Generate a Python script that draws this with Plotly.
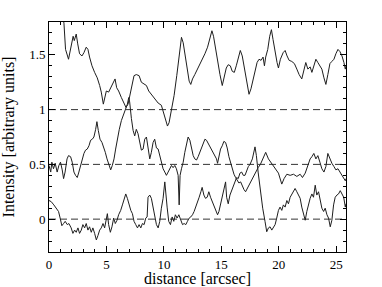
import plotly.graph_objects as go

# Series A (upper profile, ~1.0-1.7)
dist_a = [0, 0.5, 1.0, 1.3, 1.44, 1.70, 1.93, 2.1, 2.2, 2.37,
          2.5, 2.66, 2.87, 3.04, 3.24, 3.39, 3.53, 3.74, 3.97, 4.2,
          4.41, 4.55, 4.73, 4.84, 4.99, 5.19, 5.37, 5.57, 5.75, 5.89,
          6.06, 6.30, 6.53, 6.7, 6.88, 7.05, 7.23, 7.4, 7.6, 7.84,
          8.04, 8.27, 8.48, 8.68, 8.91, 9.2, 9.5, 9.78, 9.93, 10.13,
          10.31, 10.45, 10.66, 10.89, 11.12, 11.36, 11.53, 11.68, 11.82, 12.02,
          12.2, 12.34, 12.49, 12.69, 12.93, 13.13, 13.33, 13.57, 13.8, 14.0,
          14.18, 14.32, 14.5, 14.67, 14.88, 15.08, 15.25, 15.43, 15.6, 15.78,
          15.95, 16.13, 16.3, 16.47, 16.65, 16.82, 17.0, 17.2, 17.41, 17.58,
          17.76, 17.93, 18.11, 18.28, 18.46, 18.63, 18.75, 18.86, 19.04, 19.21,
          19.36, 19.5, 19.68, 19.85, 19.97, 20.14, 20.38, 20.55, 20.72, 20.9,
          21.13, 21.36, 21.57, 21.77, 22.0, 22.18, 22.35, 22.53, 22.73, 22.88,
          23.05, 23.23, 23.4, 23.58, 23.75, 23.93, 24.1, 24.27, 24.45, 24.62,
          24.8, 24.97, 25.15, 25.32, 25.5, 25.67, 25.79, 25.85]
int_a = [2.30, 2.12, 1.95, 1.79, 1.55, 1.46, 1.57, 1.67, 1.63, 1.69,
         1.60, 1.51, 1.49, 1.52, 1.57, 1.55, 1.48, 1.40, 1.34, 1.29,
         1.22, 1.16, 1.05, 1.10, 1.17, 1.16, 1.20, 1.23, 1.28, 1.20,
         1.17, 1.11, 1.05, 1.02, 1.05, 1.14, 1.23, 1.31, 1.32, 1.31,
         1.25, 1.23, 1.22, 1.17, 1.14, 1.10, 1.06, 1.04, 0.98, 0.92,
         0.85, 0.88, 0.99, 1.13, 1.31, 1.52, 1.66, 1.61, 1.52, 1.37,
         1.26, 1.23, 1.28, 1.32, 1.37, 1.41, 1.46, 1.51, 1.57, 1.66,
         1.72, 1.67, 1.55, 1.43, 1.32, 1.22, 1.29, 1.38, 1.41, 1.40,
         1.35, 1.34, 1.40, 1.48, 1.54, 1.49, 1.37, 1.25, 1.14, 1.19,
         1.28, 1.35, 1.43, 1.46, 1.45, 1.48, 1.40, 1.48, 1.55, 1.67,
         1.73, 1.64, 1.52, 1.43, 1.38, 1.46, 1.52, 1.54, 1.49, 1.45,
         1.44, 1.42, 1.37, 1.32, 1.28, 1.35, 1.43, 1.37, 1.39, 1.34,
         1.40, 1.46, 1.43, 1.40, 1.37, 1.29, 1.23, 1.32, 1.42, 1.44,
         1.46, 1.51, 1.55, 1.53, 1.49, 1.43, 1.37, 1.40]

# Series B (middle profile, ~0.5)
dist_b = [0, 0.15, 0.25, 0.39, 0.54, 0.71, 0.86, 1.0, 1.15, 1.27,
          1.4, 1.57, 1.7, 1.88, 2.02, 2.17, 2.31, 2.46, 2.6, 2.75,
          2.9, 3.04, 3.18, 3.33, 3.48, 3.62, 3.77, 3.91, 4.06, 4.17,
          4.29, 4.44, 4.61, 4.76, 4.9, 5.05, 5.22, 5.37, 5.51, 5.66,
          5.8, 5.95, 6.12, 6.3, 6.47, 6.65, 6.82, 6.94, 7.02, 7.17,
          7.32, 7.46, 7.6, 7.75, 7.9, 8.04, 8.19, 8.33, 8.48, 8.62,
          8.77, 8.91, 9.06, 9.2, 9.35, 9.5, 9.64, 9.78, 9.93, 10.08,
          10.22, 10.37, 10.51, 10.66, 10.8, 10.95, 11.09, 11.24, 11.33, 11.41,
          11.53, 11.68, 11.82, 11.97, 12.11, 12.26, 12.4, 12.55, 12.69, 12.84,
          12.98, 13.13, 13.27, 13.42, 13.57, 13.71, 13.86, 14.0, 14.15, 14.3,
          14.44, 14.58, 14.67, 14.79, 14.93, 15.08, 15.22, 15.37, 15.51, 15.66,
          15.8, 15.95, 16.1, 16.24, 16.39, 16.53, 16.68, 16.82, 16.97, 17.11,
          17.26, 17.4, 17.6, 17.8, 18.0, 18.2, 18.4, 18.6, 18.86, 19.1,
          19.39, 19.68, 19.97, 20.26, 20.46, 20.7, 20.99, 21.28, 21.57, 21.86,
          22.06, 22.3, 22.53, 22.73, 22.88, 23.05, 23.23, 23.4, 23.58, 23.75,
          23.93, 24.1, 24.27, 24.45, 24.62, 24.8, 24.97, 25.15, 25.32, 25.5,
          25.67, 25.79, 25.85]
int_b = [0.49, 0.43, 0.52, 0.46, 0.51, 0.43, 0.49, 0.52, 0.45, 0.37,
         0.43, 0.55, 0.58, 0.57, 0.52, 0.43, 0.40, 0.38, 0.43, 0.49,
         0.55, 0.60, 0.63, 0.64, 0.67, 0.72, 0.73, 0.75, 0.82, 0.89,
         0.81, 0.73, 0.70, 0.66, 0.61, 0.55, 0.49, 0.45, 0.49, 0.55,
         0.64, 0.73, 0.82, 0.90, 0.95, 0.99, 1.05, 1.11, 1.07, 0.92,
         0.81, 0.76, 0.82, 0.78, 0.69, 0.63, 0.64, 0.73, 0.75, 0.67,
         0.55, 0.61, 0.70, 0.73, 0.65, 0.64, 0.58, 0.52, 0.46, 0.43,
         0.40, 0.43, 0.46, 0.49, 0.47, 0.49, 0.46, 0.40, 0.13, 0.40,
         0.46, 0.52, 0.61, 0.70, 0.75, 0.72, 0.64, 0.58, 0.55, 0.54,
         0.57, 0.61, 0.66, 0.70, 0.73, 0.72, 0.69, 0.66, 0.64, 0.61,
         0.58, 0.55, 0.51, 0.58, 0.64, 0.67, 0.71, 0.70, 0.65, 0.57,
         0.51, 0.45, 0.41, 0.38, 0.35, 0.33, 0.34, 0.30, 0.27, 0.25,
         0.28, 0.32, 0.36, 0.40, 0.44, 0.47, 0.50, 0.55, 0.61, 0.55,
         0.51, 0.46, 0.42, 0.32, 0.37, 0.41, 0.40, 0.41, 0.39, 0.41,
         0.38, 0.42, 0.48, 0.55, 0.57, 0.60, 0.55, 0.58, 0.52, 0.46,
         0.43, 0.48, 0.60, 0.55, 0.51, 0.48, 0.45, 0.46, 0.43, 0.40,
         0.38, 0.35, 0.37]

# Series C (lower profile, ~0)
dist_c = [0, 0.19, 0.42, 0.63, 0.83, 0.97, 1.12, 1.27, 1.41, 1.59,
          1.73, 1.93, 2.08, 2.23, 2.37, 2.52, 2.66, 2.81, 2.95, 3.1,
          3.24, 3.39, 3.53, 3.68, 3.82, 3.97, 4.12, 4.26, 4.41, 4.55,
          4.7, 4.84, 4.99, 5.08, 5.19, 5.34, 5.48, 5.63, 5.77, 5.92,
          6.06, 6.24, 6.39, 6.53, 6.68, 6.82, 6.97, 7.12, 7.26, 7.4,
          7.55, 7.7, 7.84, 7.99, 8.13, 8.28, 8.42, 8.54, 8.62, 8.77,
          8.91, 9.06, 9.2, 9.35, 9.5, 9.64, 9.78, 9.93, 10.08, 10.16,
          10.28, 10.42, 10.57, 10.72, 10.86, 11.0, 11.15, 11.3, 11.47, 11.62,
          11.76, 11.91, 12.05, 12.2, 12.34, 12.49, 12.63, 12.78, 12.93, 13.07,
          13.22, 13.33, 13.48, 13.62, 13.77, 13.91, 14.06, 14.21, 14.35, 14.5,
          14.67, 14.79, 14.93, 15.08, 15.22, 15.37, 15.46, 15.6, 15.75, 15.89,
          16.04, 16.18, 16.33, 16.47, 16.62, 16.77, 16.91, 17.06, 17.2, 17.35,
          17.5, 17.7, 17.93, 18.05, 18.2, 18.4, 18.6, 18.8, 18.95, 19.1,
          19.24, 19.39, 19.53, 19.68, 19.82, 19.97, 20.11, 20.26, 20.4, 20.55,
          20.7, 20.84, 20.99, 21.13, 21.28, 21.42, 21.57, 21.71, 21.86, 22.0,
          22.15, 22.3, 22.44, 22.59, 22.73, 22.88, 23.02, 23.17, 23.31, 23.46,
          23.6, 23.75, 23.9, 24.04, 24.19, 24.33, 24.48, 24.62, 24.77, 24.91,
          25.06, 25.2, 25.35, 25.5, 25.65, 25.79, 25.85]
int_c = [0.17, 0.16, 0.13, 0.10, 0.07, 0.01, -0.06, -0.04, -0.02, -0.05,
         -0.04, -0.08, -0.13, -0.10, -0.12, -0.08, -0.13, -0.10, -0.05, -0.08,
         -0.04, -0.10, -0.07, -0.12, -0.08, -0.13, -0.19, -0.15, -0.10, -0.08,
         -0.04, -0.08, 0.01, 0.05, -0.05, -0.12, -0.07, 0.01, -0.04, -0.01,
         0.04, 0.08, 0.13, 0.17, 0.23, 0.19, 0.13, 0.08, 0.05, -0.02,
         -0.05, -0.08, -0.05, -0.08, -0.04, -0.05, 0.01, 0.02, 0.20, 0.22,
         0.19, 0.10, 0.04, -0.05, -0.08, -0.02, 0.10, 0.19, 0.34, 0.22,
         0.11, -0.02, -0.05, 0.02, -0.02, 0.04, 0.01, 0.04, -0.01, -0.05,
         -0.04, -0.05, -0.02, 0.01, 0.02, 0.04, 0.07, 0.11, 0.16, 0.20,
         0.25, 0.29, 0.22, 0.19, 0.20, 0.25, 0.20, 0.16, 0.11, 0.08,
         0.04, 0.07, 0.13, 0.20, 0.26, 0.34, 0.20, 0.14, 0.22, 0.26,
         0.31, 0.35, 0.38, 0.37, 0.42, 0.43, 0.40, 0.40, 0.45, 0.48,
         0.50, 0.55, 0.66, 0.58, 0.43, 0.25, 0.10, -0.02, -0.115, -0.08,
         -0.07, -0.10, -0.08, -0.05, 0.01, 0.08, 0.11, 0.08, 0.13, 0.11,
         0.17, 0.14, 0.20, 0.23, 0.25, 0.28, 0.25, 0.22, 0.19, 0.11,
         0.04, -0.01, 0.07, 0.14, 0.19, 0.23, 0.20, 0.31, 0.22, 0.25,
         0.16, 0.10, 0.07, 0.10, 0.04, 0.01, -0.07, -0.01, 0.13, 0.20,
         0.22, 0.23, 0.26, 0.23, 0.20, 0.11, 0.14]

ref_levels = [0.0, 0.5, 1.0]
x_range = [0, 25.85]
y_range = [-0.3, 1.8]
x_ticks = [0, 5, 10, 15, 20, 25]
y_ticks = [0, 0.5, 1, 1.5]
y_tick_labels = ["0", "0.5", "1", "1.5"]
x_title = "distance [arcsec]"
y_title = "Intensity [arbitrary units]"

FONT = "Liberation Serif, Times New Roman, serif"
LINE = "#1e1e1e"

fig = go.Figure()
for lvl in ref_levels:
    fig.add_trace(go.Scatter(x=x_range, y=[lvl, lvl], mode="lines",
                             line=dict(color="#333333", width=1, dash="7px,4px"),
                             hoverinfo="skip", showlegend=False))
for xs, ys in [(dist_a, int_a), (dist_b, int_b), (dist_c, int_c)]:
    fig.add_trace(go.Scatter(x=xs, y=ys, mode="lines",
                             line=dict(color=LINE, width=1),
                             showlegend=False))

axis_common = dict(showgrid=False, zeroline=False, showline=True,
                   linecolor="#000", linewidth=1, mirror="allticks",
                   ticks="inside", ticklen=6, tickwidth=1, tickcolor="#000",
                   automargin=False,
                   tickfont=dict(family=FONT, size=13, color="#000"))

fig.update_layout(
    width=382, height=287,
    margin=dict(l=49, r=36, t=22, b=35),
    paper_bgcolor="white", plot_bgcolor="white",
    font=dict(family=FONT, color="#000"),
    xaxis=dict(range=x_range, tickvals=x_ticks,
               minor=dict(dtick=1, tick0=0, ticklen=3, ticks="inside", tickcolor="#000"),
               **axis_common),
    yaxis=dict(range=y_range, tickvals=y_ticks, ticktext=y_tick_labels,
               minor=dict(dtick=0.1, tick0=0, ticklen=3, ticks="inside", tickcolor="#000"),
               title=dict(text=y_title, font=dict(family=FONT, size=16)),
               **axis_common),
    annotations=[dict(text=x_title, xref="paper", yref="paper", x=0.5, y=-0.117,
                      xanchor="center", yanchor="middle", showarrow=False,
                      font=dict(family=FONT, size=16, color="#000"))],
)

fig.write_html("out.html", config={"displayModeBar": False},
               post_script="document.body.style.margin='0';document.body.style.overflow='hidden';")
